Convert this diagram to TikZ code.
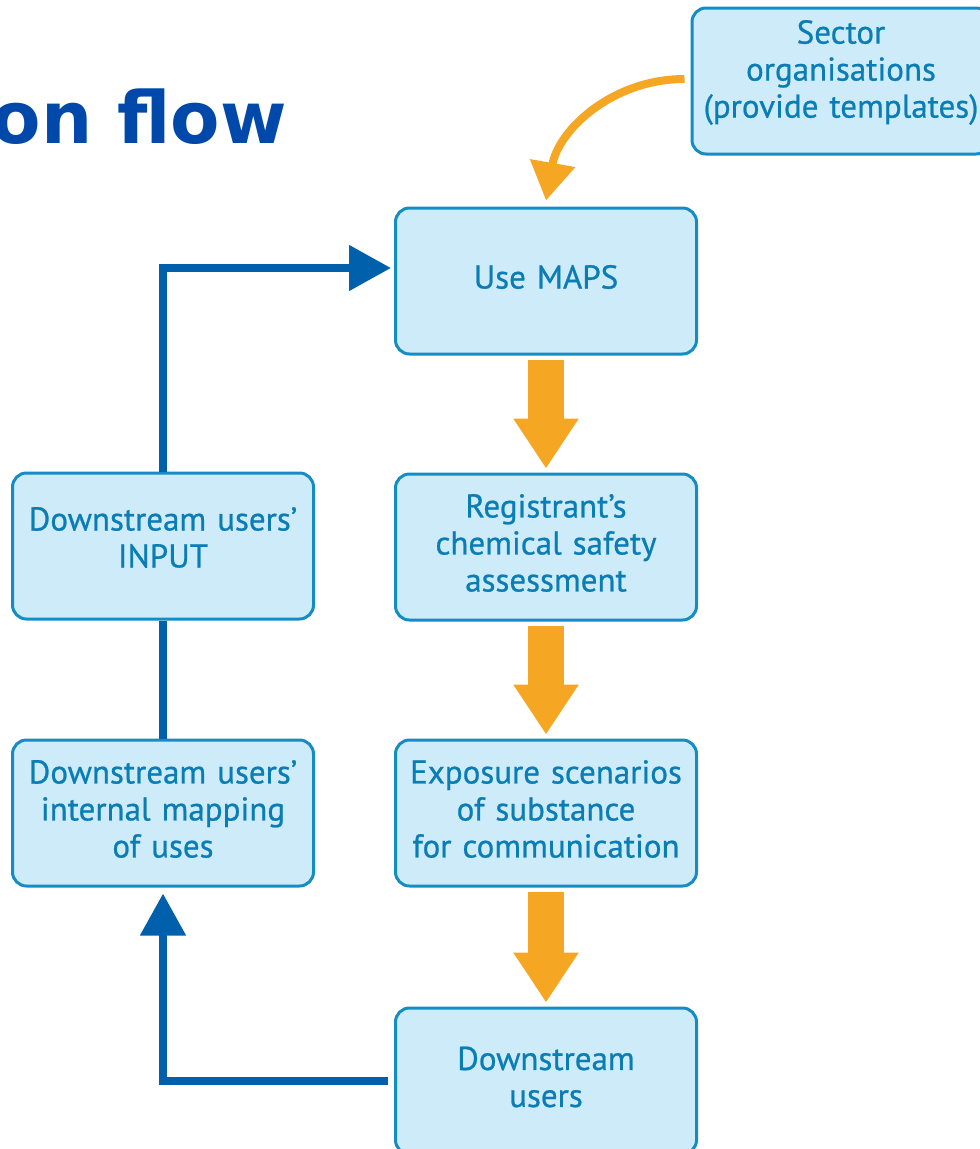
\documentclass[tikz,border=0pt]{standalone}
\usepackage{fontspec}
\newfontfamily\boxfont[FakeBold=0.7]{PT Sans}
\newfontfamily\titlefont{DejaVu Sans}
\usetikzlibrary{arrows.meta}

\definecolor{boxfill}{RGB}{206,235,250}
\definecolor{boxline}{RGB}{20,140,196}
\definecolor{boxtext}{RGB}{10,125,180}
\definecolor{flowblue}{RGB}{0,96,172}
\definecolor{floworange}{RGB}{245,166,35}
\definecolor{titleblue}{RGB}{0,72,170}

\tikzset{
    stepbox/.style={rectangle, draw=boxline, line width=3pt, fill=boxfill, rounded corners=14pt, text width=287pt, inner sep=7pt, minimum height=146pt, align=center, text=boxtext, font=\boxfont\fontsize{33}{37}\selectfont, execute at end node={\par\vspace*{8pt}}},
    raised/.style={execute at end node={\par\vspace*{9pt}}},
    bigarrow/.style={floworange, line width=36pt, -{Triangle[width=62pt,length=50pt]}},
    feedback/.style={flowblue, line width=8pt, -{Triangle[width=44pt,length=42pt]}},
}

\begin{document}
\begin{tikzpicture}[x=1pt,y=-1pt]
    \useasboundingbox (0,0) rectangle (980,1149);
    \clip (0,0) rectangle (980,1149);
    \node(title) [anchor=base east, inner sep=0pt, text=titleblue, font=\titlefont\bfseries\fontsize{72}{80}\selectfont] at (287,143) {on flow};
    \node(sector) [stepbox, raised, text width=284pt] at (841,81) {Sector\\organisations\\(provide templates)};
    \node(maps) [stepbox] at (546,281) {Use MAPS};
    \node(csa) [stepbox] at (546,547) {Registrant’s\\chemical safety\\assessment};
    \node(scenarios) [stepbox] at (546,813) {Exposure scenarios\\of substance\\for communication};
    \node(users) [stepbox] at (546,1081) {Downstream\\users};
    \node(input) [stepbox, raised] at (163,546) {Downstream users’\\INPUT};
    \node(mapping) [stepbox] at (163,813) {Downstream users’\\internal mapping\\of uses};

    % main chain
    \draw[bigarrow] ([yshift=-4pt]maps.south) -- ([yshift=4pt]csa.north);
    \draw[bigarrow] ([yshift=-4pt]csa.south) -- ([yshift=4pt]scenarios.north);
    \draw[bigarrow] ([yshift=-4pt]scenarios.south) -- ([yshift=4pt]users.north);
    \draw[floworange, line width=8pt, -{Triangle[width=44pt,length=38pt]}] ([xshift=-6pt,yshift=2pt]sector.west) to[out=180, in=80] ([yshift=6pt]maps.north);

    % feedback loop
    \draw[feedback] ([xshift=-6pt]users.west) -| ([yshift=-6pt]mapping.south);
    \draw[feedback, -] (mapping.north) -- (input.south);
    \draw[feedback] (input.north) |- ([xshift=-3pt,yshift=13pt]maps.west);
\end{tikzpicture}
\end{document}
